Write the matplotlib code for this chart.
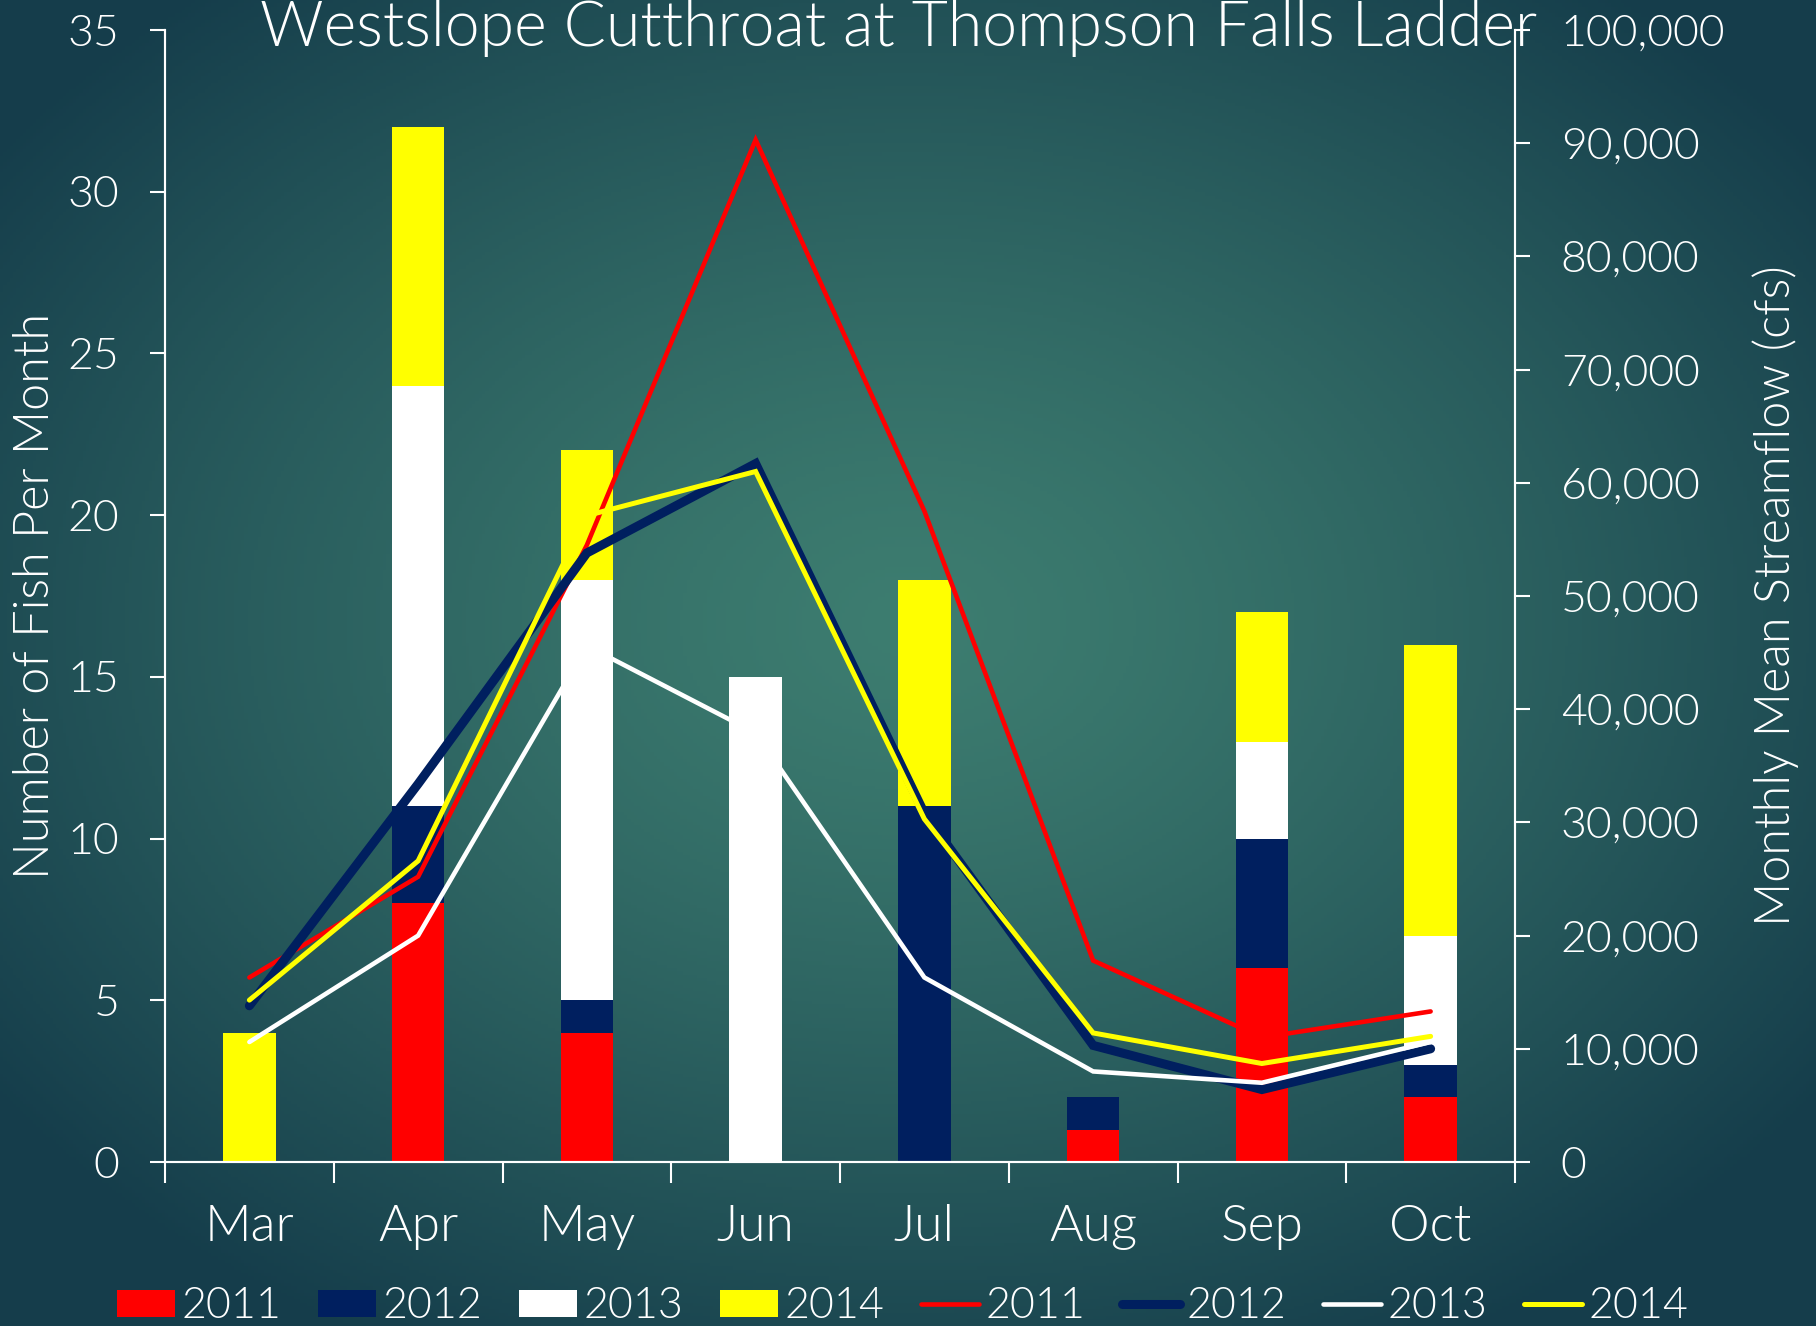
import matplotlib
matplotlib.use("Agg")
import matplotlib.pyplot as plt
import numpy as np
from matplotlib.patches import Patch
from matplotlib.lines import Line2D
from matplotlib.ticker import FuncFormatter

plt.rcParams["font.family"] = ["Lato", "DejaVu Sans"]
plt.rcParams["font.weight"] = 300
plt.rcParams["axes.labelweight"] = 300

# Fish counts per month (stacked bars, left axis)
months    = ["Mar", "Apr", "May", "Jun", "Jul", "Aug", "Sep", "Oct"]
fish_2011 = [0, 8, 4, 0, 0, 1, 6, 2]
fish_2012 = [0, 3, 1, 0, 11, 1, 4, 1]
fish_2013 = [0, 13, 13, 15, 0, 0, 3, 4]
fish_2014 = [4, 8, 4, 0, 7, 0, 4, 9]

# Monthly mean streamflow, cfs (lines, right axis)
flow_2011 = [16300, 25200, 54500, 90300, 57500, 17800, 11000, 13300]
flow_2012 = [13800, 33400, 53800, 61700, 30800, 10300, 6400, 10000]
flow_2013 = [10600, 20000, 45600, 37900, 16300, 8000, 7000, 10600]
flow_2014 = [14300, 26600, 57100, 61000, 30300, 11400, 8700, 11100]

years  = ["2011", "2012", "2013", "2014"]
colors = ["#ff0000", "#001f5f", "#ffffff", "#ffff00"]
widths = [3.3, 6.5, 3.3, 3.6]

fig = plt.figure(figsize=(18.16, 13.26), dpi=100)

# radial gradient background
bg = fig.add_axes([0, 0, 1, 1], zorder=-10)
yy, xx = np.mgrid[0:1:400j, 0:1:550j]
r = np.sqrt(((xx - 0.5) / 0.62) ** 2 + ((yy - 0.47) / 0.62) ** 2)
r = np.clip(r, 0, 1) ** 1.3
c_in  = np.array([0x3d, 0x7d, 0x70]) / 255.0
c_out = np.array([0x15, 0x3d, 0x4b]) / 255.0
img = c_in[None, None, :] * (1 - r[..., None]) + c_out[None, None, :] * r[..., None]
bg.imshow(img, aspect="auto", extent=[0, 1, 0, 1], origin="upper")
bg.axis("off")

ax = fig.add_axes([165 / 1816, 1 - 1162 / 1326, 1350 / 1816, 1132 / 1326])
ax.patch.set_alpha(0)

x = np.arange(len(months))
bottom = np.zeros(len(months))
for vals, col in zip([fish_2011, fish_2012, fish_2013, fish_2014], colors):
    ax.bar(x, vals, 0.31, bottom=bottom, color=col, edgecolor="none")
    bottom += np.array(vals)

ax.set_xlim(-0.5, 7.5)
ax.set_ylim(0, 35)
ax.set_yticks(np.arange(0, 36, 5))
ax.set_xticks(np.arange(-0.5, 8, 1))
ax.set_xticklabels([])
ax.set_xticks(x, minor=True)
ax.set_xticklabels(months, minor=True, fontsize=37, color="white", fontweight=300)
ax.tick_params(axis="x", which="major", length=15, width=1.5, color="white", direction="out")
ax.tick_params(axis="x", which="minor", length=0, pad=30)
ax.tick_params(axis="y", length=11, width=1.5, color="white", labelsize=32,
               labelcolor="white", pad=22)
for s in ["left", "bottom", "right"]:
    ax.spines[s].set_color("white")
    ax.spines[s].set_linewidth(1.5)
ax.spines["top"].set_visible(False)
ax.set_ylabel("Number of Fish Per Month", fontsize=35, color="white", fontweight=300)
ax.yaxis.set_label_coords(-0.079, 0.5)

ax2 = ax.twinx()
ax2.set_ylim(0, 100000)
ax2.set_yticks(np.arange(0, 100001, 10000))
ax2.yaxis.set_major_formatter(FuncFormatter(lambda v, p: "{:,.0f}".format(v)))
ax2.tick_params(axis="y", length=11, width=1.5, color="white", labelsize=32,
                labelcolor="white", pad=22)
for s in ["left", "bottom", "right"]:
    ax2.spines[s].set_color("white")
    ax2.spines[s].set_linewidth(1.5)
ax2.spines["top"].set_visible(False)
ax2.set_ylabel("Monthly Mean Streamflow (cfs)", fontsize=35, color="white",
               rotation=90, fontweight=300)
ax2.yaxis.set_label_coords(1.176, 0.5)

for vals, col, lw in zip([flow_2011, flow_2012, flow_2013, flow_2014], colors, widths):
    ax2.plot(x, vals, color=col, lw=lw, solid_capstyle="round",
             solid_joinstyle="miter")

fig.text(899 / 1816, 1 - 46 / 1326, "Westslope Cutthroat at Thompson Falls Ladder",
         ha="center", va="baseline", fontsize=45, color="white", fontweight=300)

handles = [Patch(facecolor=c, edgecolor="none") for c in colors]
handles += [Line2D([], [], color=c, lw=lw, solid_capstyle="round")
            for c, lw in zip(colors, widths)]
labels = years + years
fig.legend(handles, labels, loc="center", ncol=8, frameon=False,
           bbox_to_anchor=(903 / 1816, 19 / 1326),
           prop={"size": 31, "weight": 300},
           handlelength=1.35, handleheight=0.6, handletextpad=0.15,
           columnspacing=0.85, labelcolor="white", borderaxespad=0)

fig.savefig("out.png", dpi=100)
